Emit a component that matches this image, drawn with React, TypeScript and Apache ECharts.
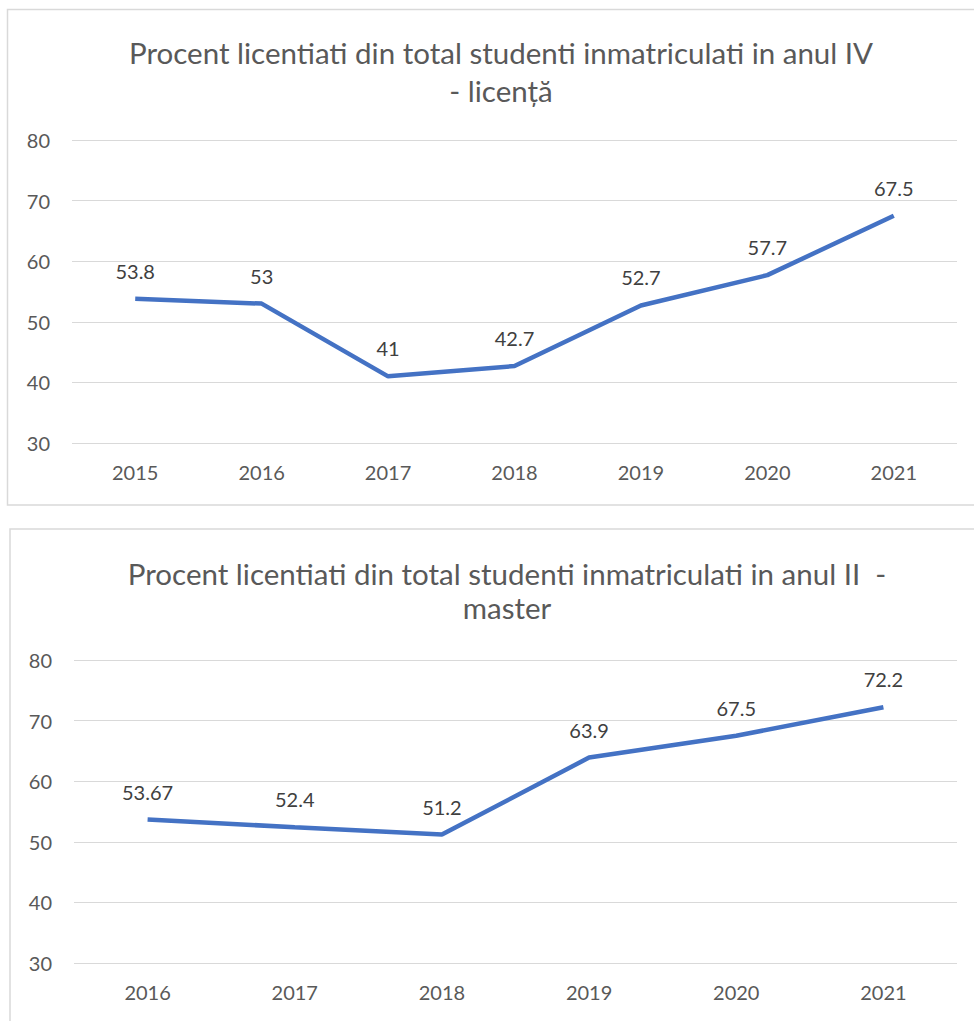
import React, { useEffect, useRef } from "react";
import * as echarts from "echarts";

const years1 = ["2015", "2016", "2017", "2018", "2019", "2020", "2021"];
const values1 = [53.8, 53, 41, 42.7, 52.7, 57.7, 67.5];
const years2 = ["2016", "2017", "2018", "2019", "2020", "2021"];
const values2 = [53.67, 52.4, 51.2, 63.9, 67.5, 72.2];
const title1 = "Procent licentiati din total studenti inmatriculati in anul IV\n- licență";
const title2 = "Procent licentiati din total studenti inmatriculati in anul II  -\nmaster";

const FONT = "Lato, 'Open Sans', sans-serif";
const LINE = "#4472C4";
const TXT = "#595959";

export default function App() {
  const ref = useRef<HTMLDivElement>(null);
  useEffect(() => {
    if (!ref.current) return;
    const chart = echarts.init(ref.current, undefined, { renderer: "svg" });
    const yAxisBase = {
      type: "value",
      min: 30,
      max: 80,
      interval: 10,
      axisLine: { show: false },
      axisTick: { show: false },
      axisLabel: { color: TXT, fontSize: 20, fontFamily: FONT, margin: 22 },
      splitLine: { lineStyle: { color: "#d9d9d9", width: 1 } },
    };
    const xAxisBase = {
      type: "category",
      boundaryGap: true,
      axisLine: { show: false },
      axisTick: { show: false },
      axisLabel: { color: TXT, fontSize: 20, fontFamily: FONT, margin: 19 },
    };
    const seriesBase = {
      type: "line",
      symbol: "circle",
      symbolSize: 0,
      showSymbol: true,
      lineStyle: { color: LINE, width: 4.5 },
      itemStyle: { color: LINE },
      label: {
        show: true,
        position: "top",
        distance: 18,
        color: "#404040",
        fontSize: 20,
        fontFamily: FONT,
      },
    };
    chart.setOption({
      animation: false,
      backgroundColor: "#ffffff",
      title: [
        {
          text: title1,
          left: 496,
          top: 28,
          textAlign: "center",
          textStyle: { color: TXT, fontSize: 29.5, fontWeight: "normal", fontFamily: FONT, lineHeight: 38, align: "center" },
        },
        {
          text: title2,
          left: 502,
          top: 551,
          textAlign: "center",
          textStyle: { color: TXT, fontSize: 29.5, fontWeight: "normal", fontFamily: FONT, lineHeight: 34, align: "center" },
        },
      ],
      graphic: [
        { type: "rect", shape: { x: 7.5, y: 9.5, width: 980, height: 495.5 }, style: { fill: "none", stroke: "#d9d9d9", lineWidth: 1.5 }, silent: true },
        { type: "rect", shape: { x: 10, y: 529, width: 980, height: 500 }, style: { fill: "none", stroke: "#d9d9d9", lineWidth: 1.5 }, silent: true },
      ],
      grid: [
        { left: 72, right: 17, top: 140, height: 303 },
        { left: 74, right: 17, top: 660, height: 303 },
      ],
      xAxis: [
        { ...xAxisBase, gridIndex: 0, data: years1 },
        { ...xAxisBase, gridIndex: 1, data: years2 },
      ],
      yAxis: [
        { ...yAxisBase, gridIndex: 0 },
        { ...yAxisBase, gridIndex: 1 },
      ],
      series: [
        { ...seriesBase, xAxisIndex: 0, yAxisIndex: 0, data: values1 },
        { ...seriesBase, xAxisIndex: 1, yAxisIndex: 1, data: values2 },
      ],
    });
    return () => chart.dispose();
  }, []);
  return (
    <div
      ref={ref}
      style={{ position: "absolute", left: 0, top: 0, width: 974, height: 1021 }}
    />
  );
}
